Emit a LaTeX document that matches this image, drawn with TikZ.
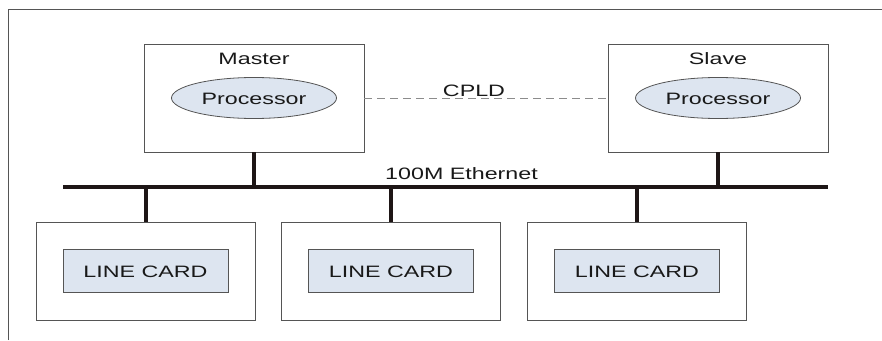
\documentclass[tikz,border=0pt]{standalone}
\usepackage{fontspec}
\setmainfont{Liberation Sans}[FakeStretch=1.41]
\usetikzlibrary{shapes.geometric, positioning}

\definecolor{cardblue}{HTML}{DDE5F0}
\definecolor{buscol}{HTML}{1E1616}
\definecolor{edgecol}{HTML}{555555}

\tikzset{
  unitbox/.style={draw=edgecol, line width=0.9pt, minimum width=220pt, minimum height=108pt, inner sep=0pt},
  cardbox/.style={draw=edgecol, line width=0.9pt, minimum width=219pt, minimum height=98pt, inner sep=0pt},
  cpu/.style={ellipse, draw=edgecol, fill=cardblue, line width=0.8pt, minimum width=165pt, minimum height=41pt, inner sep=0pt},
  cardlabel/.style={draw=edgecol, fill=cardblue, line width=0.8pt, minimum width=165pt, minimum height=43pt, inner sep=0pt},
  label/.style={font=\fontsize{16.5}{18}\selectfont, text=black!90, inner sep=0pt},
  bus/.style={buscol, line width=4pt}
}

\begin{document}
\begin{tikzpicture}[x=1pt, y=-1pt]
\useasboundingbox (0,0) rectangle (882,340);
% frame (only top and left edges show)
\draw [edgecol, line width=0.9pt] (8,340) -- (8,9) -- (882,9);

% master and slave
\node [unitbox] (master) at (254,98) {};
\node [unitbox] (slave)  at (718,98) {};
\node [label, anchor=base] (mastertxt) at (254,64) {Master};
\node [label, anchor=base] (slavetxt)  at (718,64) {Slave};
\node [cpu] (mcpu) at (254,98) {};
\node [cpu] (scpu) at (718,98) {};
\node [label, anchor=base] at (254,104) {Processor};
\node [label, anchor=base] at (718,104) {Processor};

% CPLD link
\draw [black!45, dash pattern=on 8pt off 5pt, line width=0.9pt] (master.east) -- (slave.west);
\node [label, anchor=base] (cpld) at (474,96) {CPLD};

% ethernet bus
\coordinate (busL) at (63,187);
\coordinate (busR) at (828,187);
\draw [bus] (busL) -- (busR);
\node [label, anchor=base] (eth) at (461.5,179) {100M Ethernet};
\draw [bus] (master.south) -- (master.south |- busL);
\draw [bus] (slave.south) -- (slave.south |- busL);

% line cards
\foreach \i/\x in {1/145.5, 2/391, 3/637} {
  \node [cardbox] (card\i) at (\x,271) {};
  \node [cardlabel] (lc\i) at (\x,270.5) {};
  \node [label, anchor=base] at (\x,277.5) {LINE CARD};
  \draw [bus] (card\i.north) -- (card\i.north |- busL);
}
\end{tikzpicture}
\end{document}
